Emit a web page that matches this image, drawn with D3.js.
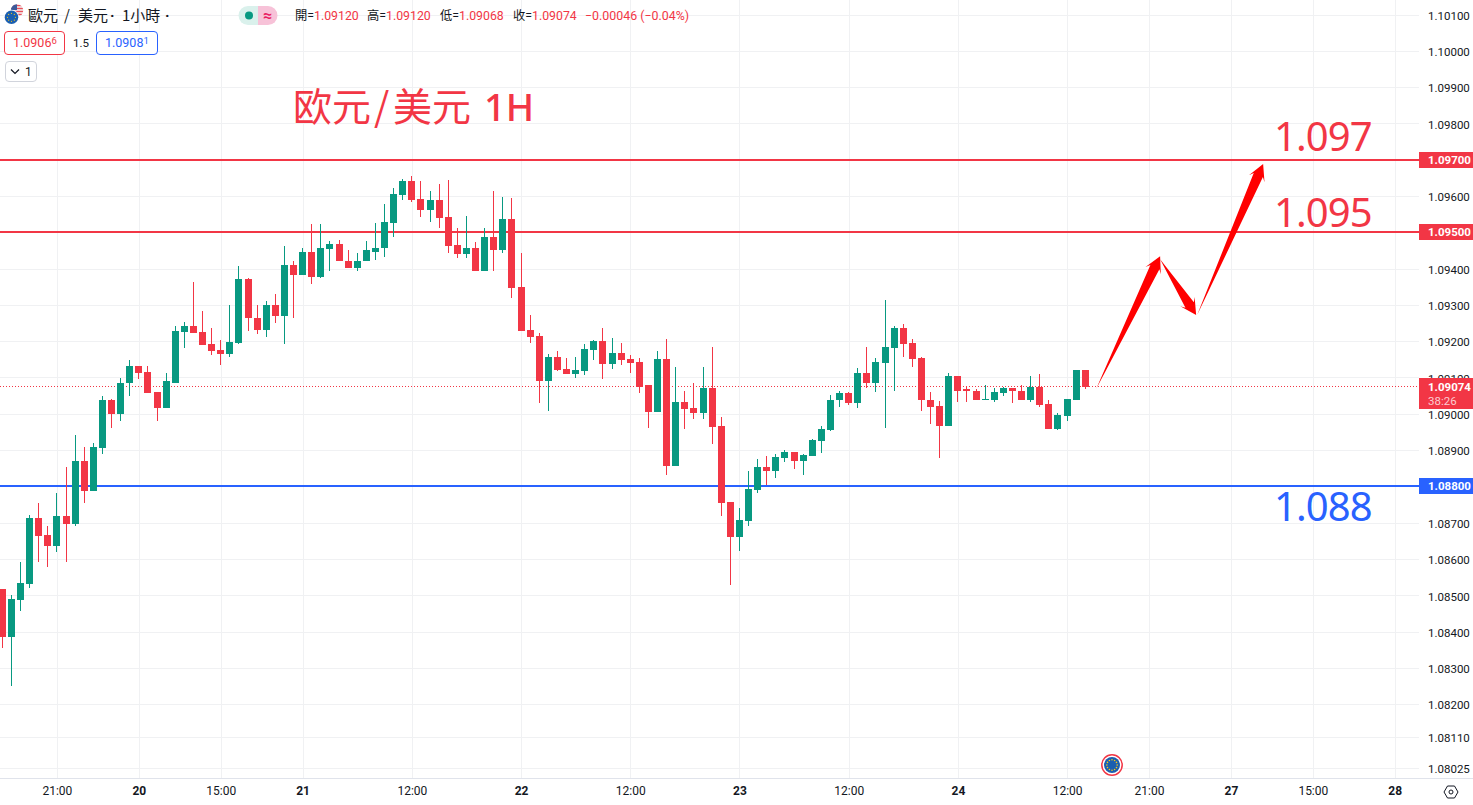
<!DOCTYPE html>
<html><head><meta charset="utf-8">
<script src="https://cdn.jsdelivr.net/npm/d3@7"></script>
<style>html,body{margin:0;padding:0;background:#fff;overflow:hidden}svg{display:block}
text{font-family:"Roboto","Noto Sans",sans-serif}</style></head><body>
<svg id="c" width="1473" height="805"></svg>
<script>
const opens=[1.08515,1.08383,1.08485,1.08529,1.08711,1.08664,1.08634,1.08716,1.08694,1.08870,
1.08786,1.08904,1.09038,1.08998,1.09083,1.09130,1.09113,1.09058,1.09015,1.09085,
1.09224,1.09242,1.09224,1.09191,1.09174,1.09163,1.09193,1.09370,1.09264,1.09231,
1.09300,1.09267,1.09408,1.09381,1.09446,1.09375,1.09452,1.09466,1.09421,1.09400,
1.09419,1.09446,1.09455,1.09524,1.09601,1.09639,1.09590,1.09560,1.09587,1.09540,
1.09463,1.09438,1.09455,1.09392,1.09485,1.09449,1.09535,1.09348,1.09231,1.09213,
1.09088,1.09155,1.09122,1.09108,1.09116,1.09174,1.09199,1.09135,1.09166,1.09149,
1.09141,1.09077,1.09003,1.09149,1.08854,1.09031,1.09015,1.09001,1.09069,1.08965,
1.08755,1.08658,1.08703,1.08788,1.08851,1.08841,1.08876,1.08893,1.08868,1.08882,
1.08923,1.08954,1.09036,1.09055,1.09028,1.09110,1.09085,1.09138,1.09180,1.09234,
1.09193,1.09152,1.09038,1.09020,1.08965,1.09102,1.09066,1.09063,1.09036,1.09038,
1.09055,1.09069,1.09063,1.09038,1.09072,1.09026,1.08956,1.08992,1.09038,1.09120];
const highs=[1.08515,1.08499,1.08590,1.08719,1.08752,1.08691,1.08780,1.08851,1.08940,1.08906,
1.08918,1.09049,1.09041,1.09097,1.09146,1.09130,1.09130,1.09058,1.09110,1.09242,
1.09253,1.09361,1.09281,1.09234,1.09202,1.09300,1.09406,1.09372,1.09298,1.09309,
1.09328,1.09460,1.09421,1.09455,1.09521,1.09521,1.09474,1.09479,1.09449,1.09443,
1.09474,1.09524,1.09576,1.09622,1.09645,1.09653,1.09639,1.09614,1.09631,1.09642,
1.09510,1.09543,1.09471,1.09510,1.09614,1.09596,1.09593,1.09441,1.09270,1.09221,
1.09163,1.09171,1.09152,1.09155,1.09191,1.09202,1.09234,1.09207,1.09193,1.09160,
1.09152,1.09077,1.09171,1.09204,1.09127,1.09061,1.09083,1.09127,1.09182,1.08990,
1.08755,1.08739,1.08841,1.08873,1.08882,1.08887,1.08898,1.08893,1.08887,1.08929,
1.08965,1.09052,1.09063,1.09058,1.09124,1.09182,1.09152,1.09312,1.09242,1.09245,
1.09204,1.09155,1.09058,1.09034,1.09110,1.09102,1.09074,1.09066,1.09077,1.09069,
1.09072,1.09069,1.09077,1.09102,1.09108,1.09038,1.09001,1.09041,1.09120,1.09120];
const lows=[1.08353,1.08249,1.08455,1.08518,1.08590,1.08576,1.08618,1.08590,1.08689,1.08752,
1.08786,1.08887,1.08959,1.08978,1.09049,1.09094,1.09055,1.08978,1.09015,1.09085,
1.09180,1.09221,1.09188,1.09160,1.09133,1.09155,1.09191,1.09228,1.09218,1.09210,
1.09248,1.09191,1.09264,1.09381,1.09356,1.09372,1.09392,1.09419,1.09400,1.09392,
1.09419,1.09424,1.09432,1.09485,1.09587,1.09582,1.09540,1.09527,1.09510,1.09441,
1.09427,1.09427,1.09392,1.09392,1.09392,1.09441,1.09317,1.09226,1.09193,1.09028,
1.09006,1.09116,1.09108,1.09097,1.09105,1.09146,1.09094,1.09122,1.09133,1.09110,
1.09055,1.08959,1.09003,1.08830,1.08854,1.08956,1.08984,1.08984,1.08915,1.08716,
1.08526,1.08620,1.08691,1.08780,1.08802,1.08822,1.08865,1.08848,1.08830,1.08882,
1.08890,1.08951,1.09017,1.09023,1.09015,1.09069,1.09058,1.08959,1.09061,1.09155,
1.09127,1.09006,1.08970,1.08876,1.08965,1.09031,1.09031,1.09036,1.09036,1.09031,
1.09049,1.09028,1.09038,1.09031,1.09017,1.08956,1.08954,1.08978,1.09038,1.09068];
const closes=[1.08383,1.08488,1.08532,1.08711,1.08661,1.08634,1.08716,1.08694,1.08870,1.08786,
1.08906,1.09038,1.08998,1.09085,1.09130,1.09110,1.09055,1.09015,1.09088,1.09226,
1.09242,1.09221,1.09188,1.09171,1.09163,1.09196,1.09370,1.09262,1.09231,1.09300,
1.09267,1.09408,1.09381,1.09446,1.09375,1.09455,1.09466,1.09419,1.09400,1.09421,
1.09449,1.09457,1.09527,1.09604,1.09639,1.09587,1.09560,1.09587,1.09538,1.09460,
1.09438,1.09455,1.09392,1.09485,1.09449,1.09535,1.09345,1.09228,1.09210,1.09088,
1.09155,1.09119,1.09108,1.09119,1.09177,1.09199,1.09135,1.09166,1.09146,1.09138,
1.09074,1.09003,1.09149,1.08854,1.09031,1.09012,1.09001,1.09069,1.08962,1.08752,
1.08658,1.08705,1.08791,1.08851,1.08841,1.08879,1.08893,1.08868,1.08884,1.08926,
1.08956,1.09038,1.09055,1.09028,1.09110,1.09085,1.09141,1.09182,1.09234,1.09191,
1.09149,1.09036,1.09017,1.08965,1.09102,1.09063,1.09061,1.09036,1.09041,1.09058,
1.09069,1.09061,1.09038,1.09072,1.09023,1.08956,1.08995,1.09041,1.09120,1.09074];
const priceTicks=[1.101,1.100,1.099,1.098,1.097,1.096,1.095,1.094,1.093,1.092,1.091,1.090,1.089,1.088,1.087,1.086,1.085,1.084,1.083,1.082,1.0811,1.08025];
const timeTickBars=[6,15,24,33,45,57,69,81,93,105,117,126,135,144,153];
const timeTickLabels=["21:00","20","15:00","21","12:00","22","12:00","23","12:00","24","12:00","21:00","27","15:00","28"];
const dayLabels=["20","21","22","23","24","27","28"];
const levelPrices=[1.097,1.095,1.088];
const levelLabels=["1.097","1.095","1.088"];
const levelColors=["#f23645","#f23645","#2962ff"];
const lastPrice=1.09074;
const arrowFromBars=[120.19,127.22,131.29];
const arrowFromPrices=[1.09067,1.09425,1.09271];
const arrowToBars=[127.22,131.18,138.54];
const arrowToPrices=[1.09433,1.09271,1.09687];
const UP="#089981",DOWN="#f23645",GRID="#f0f1f3",TEXT="#131722";
const paneR=1419,paneB=778;

const svg=d3.select("#c");
const x=d3.scaleLinear().domain([0,119]).range([2.3,1085.3]);
const y=d3.scaleLinear().domain([1.101,1.08025]).range([14.2,767.2]);
const rnd=Math.round;
const snap=p=>rnd(y(p)+.4);

// grid
const grid=svg.append("g");
grid.selectAll(".h").data(priceTicks).join("line").attr("x1",0).attr("x2",paneR)
 .attr("y1",d=>snap(d)+.5).attr("y2",d=>snap(d)+.5).attr("stroke",GRID);
grid.selectAll(".v").data(timeTickBars).join("line").attr("y1",0).attr("y2",paneB)
 .attr("x1",d=>rnd(x(d))+.5).attr("x2",d=>rnd(x(d))+.5).attr("stroke",GRID);

// level lines
svg.append("g").selectAll("line").data(levelPrices).join("line").attr("x1",0).attr("x2",paneR)
 .attr("y1",d=>snap(d)).attr("y2",d=>snap(d)).attr("stroke",(d,i)=>levelColors[i]).attr("stroke-width",2);

// last price dotted
svg.append("line").attr("x1",0).attr("x2",paneR).attr("y1",snap(lastPrice)-.5).attr("y2",snap(lastPrice)-.5)
 .attr("stroke",DOWN).attr("stroke-dasharray","1 2");

// candles
const candles=svg.append("g").attr("shape-rendering","crispEdges");
const idx=d3.range(opens.length);
const col=i=>closes[i]>=opens[i]?UP:DOWN;
candles.selectAll(".w").data(idx).join("rect")
 .attr("x",i=>Math.floor(x(i))).attr("width",1)
 .attr("y",i=>rnd(y(highs[i]))).attr("height",i=>Math.max(1,rnd(y(lows[i]))-rnd(y(highs[i]))))
 .attr("fill",col);
candles.selectAll(".b").data(idx).join("rect")
 .attr("x",i=>Math.floor(x(i))-3).attr("width",7)
 .attr("y",i=>rnd(y(Math.max(opens[i],closes[i]))))
 .attr("height",i=>Math.max(1,rnd(y(Math.min(opens[i],closes[i])))-rnd(y(Math.max(opens[i],closes[i])))))
 .attr("fill",col);

// arrows
function arrowPath(x0,y0,x1,y1){
 const L=Math.hypot(x1-x0,y1-y0),ux=(x1-x0)/L,uy=(y1-y0)/L,nx=-uy,ny=ux;
 const p=(d,w)=>[x1-ux*d+nx*w,y1-uy*d+ny*w];
 const pts=[[x0,y0],p(12,5),p(16,8.5),[x1,y1],p(16,-8.5),p(12,-5)];
 return d3.line()(pts)+"Z";
}
svg.append("g").selectAll("path").data(arrowToBars).join("path")
 .attr("d",(d,i)=>arrowPath(x(arrowFromBars[i]),y(arrowFromPrices[i]),x(arrowToBars[i]),y(arrowToPrices[i])))
 .attr("fill","#ff0000");

// big labels
svg.append("g").selectAll("text").data(levelLabels).join("text")
 .attr("x",1274).attr("y",(d,i)=>snap(levelPrices[i])-[9,5,-35][i])
 .attr("fill",(d,i)=>levelColors[i]).style("font-family",'"Noto Sans",sans-serif').style("font-size","40px").style("letter-spacing","-0.9px").text(d=>d);
const title=svg.append("text").attr("x",293).attr("y",121).attr("fill",DOWN)
 .style("font-family",'"Noto Sans CJK SC"').style("font-size","39px");
title.append("tspan").text("欧元");
title.append("tspan").attr("x",374).text("/");
title.append("tspan").attr("x",393).text("美元");
title.append("tspan").attr("x",484).style("font-weight","500").style("font-family",'"Noto Sans",sans-serif').style("font-size","38px").text("1H");

// right axis
const yAxis=svg.append("g").attr("transform",`translate(${paneR},0)`)
 .call(d3.axisRight(y).tickValues(priceTicks).tickSize(0).tickPadding(9).tickFormat(d3.format(".5f")));
yAxis.select(".domain").remove();
yAxis.selectAll("text").attr("dy",".45em").style("font-size","11.5px").style("font-family",'"Roboto",sans-serif').attr("fill",TEXT);

// bottom axis
svg.append("line").attr("x1",0).attr("x2",1473).attr("y1",paneB+.5).attr("y2",paneB+.5).attr("stroke","#e0e3eb");
const xAxis=svg.append("g").attr("transform",`translate(0,${paneB})`)
 .call(d3.axisBottom(x).tickValues(timeTickBars).tickSize(0).tickPadding(8).tickFormat((d,i)=>timeTickLabels[i]));
xAxis.select(".domain").remove();
xAxis.selectAll("text").style("font-size","12px").style("font-family",'"Roboto",sans-serif').attr("fill",TEXT)
 .style("font-weight",(d,i)=>dayLabels.includes(timeTickLabels[i])?"700":"400");

// price tags
const tags=svg.append("g");
levelPrices.forEach((p,i)=>{
 const c=snap(p);
 tags.append("rect").attr("x",paneR).attr("y",c-8).attr("width",54).attr("height",16).attr("fill",levelColors[i]);
 tags.append("text").attr("x",1428).attr("y",c+4).attr("fill","#fff").style("font-size","11.5px").style("font-weight","700").text(d3.format(".5f")(p));
});
const ly=snap(lastPrice);
tags.append("rect").attr("x",paneR).attr("y",ly-9).attr("width",54).attr("height",31).attr("fill",DOWN);
tags.append("text").attr("x",1428).attr("y",ly+4).attr("fill","#fff").style("font-size","11.5px").style("font-weight","700").text(d3.format(".5f")(lastPrice));
tags.append("text").attr("x",1428).attr("y",ly+18).attr("fill","#fff").attr("fill-opacity",.75).style("font-size","11.5px").text("38:26");

// settings icon
const gear=svg.append("g").attr("transform","translate(1451,792)").attr("fill","none").attr("stroke",TEXT);
gear.append("path").attr("d","M-7,0L-3.5,-6L3.5,-6L7,0L3.5,6L-3.5,6Z");
gear.append("circle").attr("r",2);

// economic event marker
const ev=svg.append("g").attr("transform","translate(1112,765)");
ev.append("circle").attr("r",10.2).attr("fill","#fff").attr("stroke",DOWN).attr("stroke-width",1.5);
ev.append("circle").attr("r",8).attr("fill","#1b5fb0");
ev.selectAll(".s").data(d3.range(12)).join("circle").attr("r",.8).attr("fill","#f5c518")
 .attr("cx",d=>5.2*Math.cos(d*Math.PI/6)).attr("cy",d=>5.2*Math.sin(d*Math.PI/6));

// header
const hdr=svg.append("g");
svg.append("clipPath").attr("id","usClip").append("circle").attr("cx",17).attr("cy",10.5).attr("r",6.2);
const flag=hdr.append("g");
const us=flag.append("g").attr("clip-path","url(#usClip)");
us.append("rect").attr("x",10).attr("y",4).attr("width",14).attr("height",13).attr("fill","#f4f4f4");
us.append("path").attr("d","M10,5.5h14M10,8.5h14M10,11.5h14M10,14.5h14").attr("stroke","#e8505b").attr("stroke-width",1.5);
us.append("rect").attr("x",10).attr("y",4).attr("width",7).attr("height",6).attr("fill","#3c5a9a");
flag.append("circle").attr("cx",11.5).attr("cy",17.3).attr("r",7.6).attr("fill","#fff");
flag.append("circle").attr("cx",11.5).attr("cy",17.3).attr("r",6.8).attr("fill","#1b5fb0");
flag.selectAll(".s").data(d3.range(8)).join("circle").attr("r",.6).attr("fill","#f5c518")
 .attr("cx",d=>11.5+4*Math.cos(d*Math.PI/4)).attr("cy",d=>17.3+4*Math.sin(d*Math.PI/4));
const sym=hdr.append("text").attr("x",28).attr("y",21).attr("fill",TEXT).style("font-family",'"Noto Sans CJK TC"').style("font-size","15px");
sym.append("tspan").text("歐元");
sym.append("tspan").attr("x",64).text("/");
sym.append("tspan").attr("x",78).text("美元");
sym.append("tspan").attr("x",110).style("font-family",'"Roboto"').style("font-weight","700").text("·");
sym.append("tspan").attr("x",122).text("1小時");
sym.append("tspan").attr("x",165).style("font-family",'"Roboto"').style("font-weight","700").text("·");
// status pill
hdr.append("path").attr("d","M258,6H248a9,9 0 0 0 0,19H258Z").attr("fill","#daf1ec");
hdr.append("path").attr("d","M258,6H268a9,9 0 0 1 0,19H258Z").attr("fill","#f7c2d8");
hdr.append("circle").attr("cx",249).attr("cy",15.5).attr("r",4).attr("fill",UP);
hdr.append("text").attr("x",267.5).attr("y",20.5).attr("text-anchor","middle").attr("fill","#e91e63").style("font-size","16px").style("font-weight","700").text("≈");
// ohlc
const ohlcKeys=["開=","高=","低=","收="],ohlcVals=["1.09120","1.09120","1.09068","1.09074"],ohlcX=[295,367,440,513];
ohlcKeys.forEach((k,i)=>{
 const t=hdr.append("text").attr("x",ohlcX[i]).attr("y",20).style("font-size","12.3px").style("font-family",'"Roboto","Noto Sans CJK TC",sans-serif');
 t.append("tspan").attr("fill",TEXT).text(k);
 t.append("tspan").attr("fill",DOWN).text(ohlcVals[i]);
});
hdr.append("text").attr("x",585).attr("y",20).attr("fill",DOWN).style("font-size","12.4px").text("−0.00046 (−0.04%)");
// bid / ask
function box(x0,x1,c,main,sup){
 hdr.append("rect").attr("x",x0+.5).attr("y",31.5).attr("width",x1-x0).attr("height",23).attr("rx",3.5).attr("fill","#fff").attr("stroke",c);
 const t=hdr.append("text").attr("x",x0+9).attr("y",47).attr("fill",c).style("font-size","12.5px").text(main);
 t.append("tspan").attr("dy",-3).style("font-size","9.5px").text(sup);
}
box(4,64,DOWN,"1.0906","6");
hdr.append("text").attr("x",81).attr("y",47).attr("text-anchor","middle").attr("fill",TEXT).style("font-size","11.5px").text("1.5");
box(96,157,"#2962ff","1.0908","1");
hdr.append("rect").attr("x",5.5).attr("y",61.5).attr("width",31).attr("height",20).attr("rx",3.5).attr("fill","#fff").attr("stroke","#d1d4dc");
hdr.append("path").attr("d","M11,69.5l4,4l4,-4").attr("fill","none").attr("stroke",TEXT).attr("stroke-width",1.2);
hdr.append("text").attr("x",25).attr("y",76).attr("fill",TEXT).style("font-size","12px").text("1");
</script></body></html>
